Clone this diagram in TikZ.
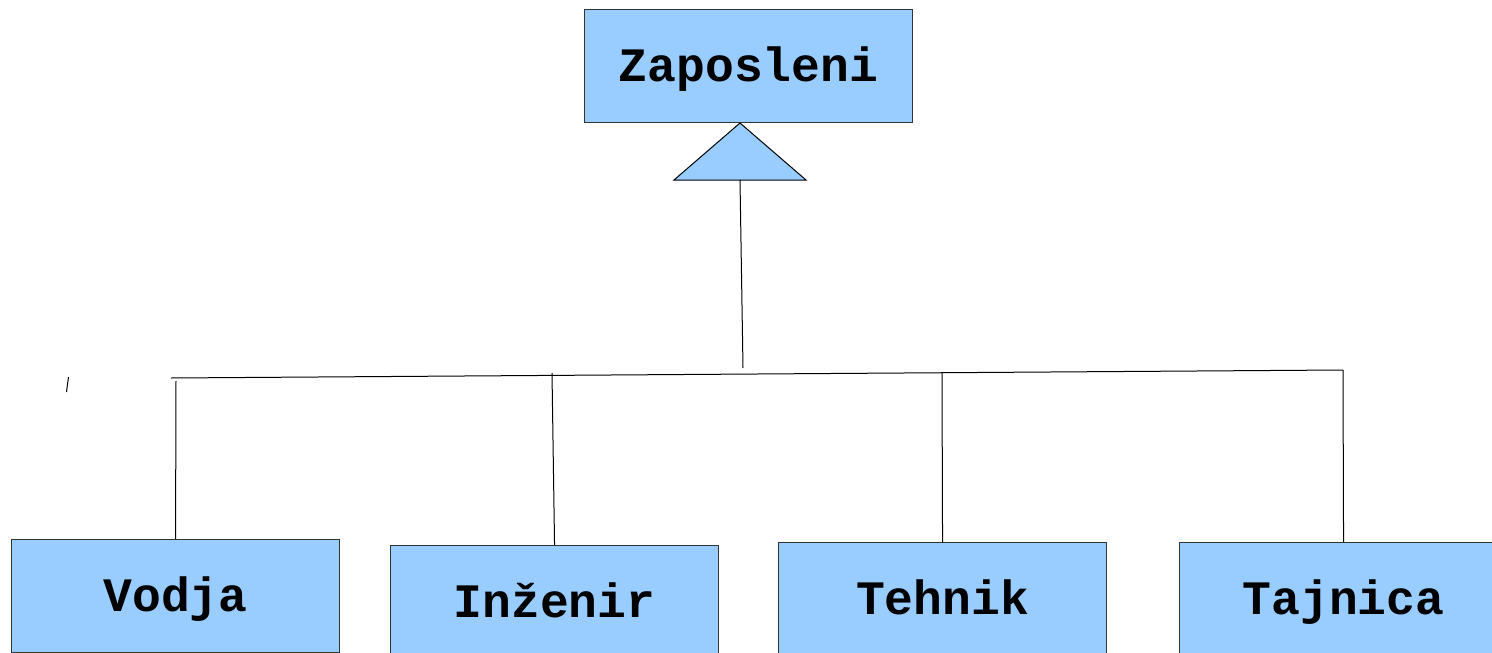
\documentclass[tikz,border=0pt]{standalone}
\usepackage{fontspec}
\setmonofont{Liberation Mono}
\definecolor{boxblue}{HTML}{99CCFF}
\definecolor{boxline}{HTML}{333333}
\begin{document}
\begin{tikzpicture}[x=1pt,y=-1pt,
  cls/.style={draw=boxline,fill=boxblue,line width=1.1pt,anchor=north west,
    minimum width=328pt,minimum height=113pt,inner sep=0pt,
    font=\fontsize{48}{51}\selectfont\ttfamily\bfseries,
    text height=31.5pt,text depth=0pt},
  conn/.style={draw=black,line width=1pt}]
\useasboundingbox (0,0) rectangle (1492,653);
\clip (0,0) rectangle (1492,653);
\node[cls] (zap) at (584,9) {Zaposleni};
\node[cls] (vod) at (11,539) {Vodja};
\node[cls] (inz) at (390,545) {Inženir};
\node[cls] (teh) at (778,542) {Tehnik};
\node[cls] (taj) at (1179,542) {Tajnica};
% generalization triangle
\coordinate (apex) at (740,123);
\coordinate (tl) at (674,180);
\coordinate (tr) at (806,180);
\coordinate (tb) at (740,180);
\filldraw[fill=boxblue,draw=black,line width=1pt] (apex) -- (tr) -- (tl) -- cycle;
% connectors
\coordinate (hub) at (743,368);
\coordinate (hl) at (171,378);
\coordinate (hr) at (1343,370);
\coordinate (v1) at (176,381);
\coordinate (i1) at (552,373);
\coordinate (t1) at (942,373);
\draw[conn] (tb) -- (hub);
\draw[conn] (hl) -- (hr);
\draw[conn] (v1) -- (vod.north);
\draw[conn] (i1) -- (inz.north);
\draw[conn] (t1) -- (teh.north);
\draw[conn] (hr) -- (taj.north);
% stray mark
\draw[line width=1pt] (68.5,377) -- (66.5,392);
\end{tikzpicture}
\end{document}
